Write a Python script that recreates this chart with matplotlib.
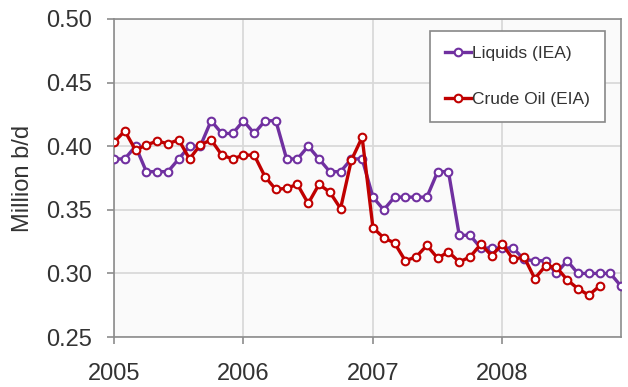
import matplotlib
matplotlib.use("Agg")
import matplotlib.pyplot as plt
import numpy as np

plt.rcParams['font.family'] = ['Liberation Sans', 'DejaVu Sans']

# Monthly data, Jan 2005 onward
liquids_iea = [0.39, 0.39, 0.40, 0.38, 0.38, 0.38, 0.39, 0.40, 0.40, 0.42, 0.41, 0.41,
               0.42, 0.41, 0.42, 0.42, 0.39, 0.39, 0.40, 0.39, 0.38, 0.38, 0.39, 0.39,
               0.36, 0.35, 0.36, 0.36, 0.36, 0.36, 0.38, 0.38, 0.33, 0.33, 0.32, 0.32,
               0.32, 0.32, 0.311, 0.31, 0.31, 0.30, 0.31, 0.30, 0.30, 0.30, 0.30, 0.29]
crude_eia = [0.403, 0.412, 0.397, 0.401, 0.404, 0.402, 0.405, 0.390, 0.401, 0.405, 0.393, 0.390,
             0.393, 0.393, 0.376, 0.366, 0.367, 0.370, 0.355, 0.370, 0.364, 0.351, 0.389, 0.407,
             0.336, 0.328, 0.324, 0.310, 0.313, 0.322, 0.312, 0.317, 0.309, 0.313, 0.323, 0.314,
             0.323, 0.311, 0.313, 0.296, 0.306, 0.305, 0.295, 0.288, 0.283, 0.290]
year_ticks = [2005, 2006, 2007, 2008]
series_names = ['Liquids (IEA)', 'Crude Oil (EIA)']

x_liq = 2005 + np.arange(len(liquids_iea)) / 12
x_crude = 2005 + np.arange(len(crude_eia)) / 12

fig = plt.figure(figsize=(6.28, 3.87), dpi=100)
ax = fig.add_axes([0.1815, 0.129, 0.8075, 0.822])
ax.set_facecolor('#fafafa')

ax.plot(x_liq, liquids_iea, color='#7030A0', lw=2.4, marker='o', ms=5.5,
        mfc='white', mec='#7030A0', mew=1.5, label=series_names[0], zorder=3)
ax.plot(x_crude, crude_eia, color='#C00000', lw=2.4, marker='o', ms=5.5,
        mfc='white', mec='#C00000', mew=1.5, label=series_names[1], zorder=4)

ax.set_xlim(2005, 2005 + 47 / 12)
ax.set_ylim(0.25, 0.50)
ax.set_xticks(year_ticks)
ax.set_xticklabels([str(y) for y in year_ticks])
ax.set_yticks(np.arange(0.25, 0.501, 0.05))
ax.yaxis.set_major_formatter(matplotlib.ticker.FormatStrFormatter('%.2f'))
ax.grid(True, color='#d9d9d9', lw=1.3)
ax.set_axisbelow(True)

for s in ax.spines.values():
    s.set_color('#8c8c8c')
    s.set_linewidth(1.2)

ax.tick_params(axis='both', colors='#8c8c8c', labelcolor='#333333', labelsize=17,
               length=5, width=1.2)
ax.tick_params(axis='x', pad=14)
ax.tick_params(axis='y', pad=10.5)
ax.set_ylabel('Million b/d', fontsize=17, color='#333333', labelpad=9)

leg = ax.legend(loc='upper right', bbox_to_anchor=(0.968, 0.962), fontsize=12.5,
                frameon=True, fancybox=False, edgecolor='#888888', facecolor='white',
                framealpha=1, handlelength=1.5, handletextpad=0.05, labelspacing=1.77,
                borderpad=0.86, borderaxespad=0)
leg.get_frame().set_linewidth(1.2)
for t in leg.get_texts():
    t.set_color('#333333')

fig.savefig('out.png', dpi=100)
